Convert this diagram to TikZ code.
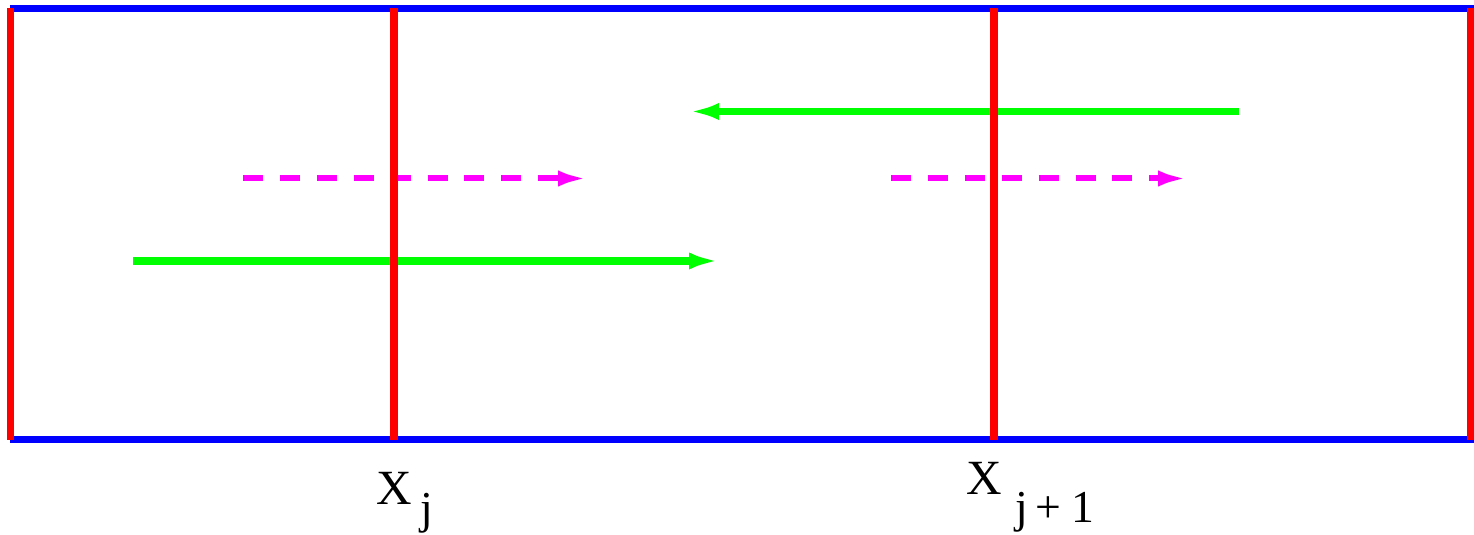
\documentclass[tikz,border=0pt]{standalone}
\usepackage{fontspec}
\setmainfont{Liberation Serif}
\usetikzlibrary{arrows.meta}

\definecolor{wallred}{RGB}{255,0,0}
\definecolor{boundblue}{RGB}{0,0,255}
\definecolor{fluxgreen}{RGB}{0,255,0}
\definecolor{wavemag}{RGB}{255,0,255}

\tikzset{
  bound/.style={boundblue, line width=2pt},
  wall/.style={wallred, line width=2pt},
  flux/.style={fluxgreen, line width=2pt, -{Latex[length=3mm,width=1.7mm]}},
  wave/.style={wavemag, line width=1.7pt, dash pattern=on 5.7pt off 4.8pt,
    -{Latex[length=3mm,width=1.6mm]}},
  lbl/.style={anchor=base west, inner sep=0pt, font=\fontsize{14}{14}\selectfont},
}
\newcommand{\sub}[2]{\hspace{0.08cm}\raisebox{#1}{\fontsize{13}{13}\selectfont #2}}

\begin{document}
\begin{tikzpicture}
    \useasboundingbox (0,0) rectangle (14.74,-5.35);

    % cell corners
    \coordinate (tl) at (0.10,-0.085);
    \coordinate (tr) at (14.74,-0.085);
    \coordinate (bl) at (0.10,-4.395);
    \coordinate (br) at (14.74,-4.395);
    \draw[bound] (tl) -- (tr);
    \draw[bound] (bl) -- (br);

    % waves
    \coordinate (a1) at (2.43,-1.785);
    \coordinate (a2) at (5.88,-1.785);
    \coordinate (b1) at (8.91,-1.785);
    \coordinate (b2) at (11.88,-1.785);
    \draw[wave] (a1) -- (a2);
    \draw[wave] (b1) -- (b2);

    % fluxes
    \coordinate (f1) at (12.39,-1.115);
    \coordinate (f2) at (6.89,-1.115);
    \coordinate (g1) at (1.33,-2.61);
    \coordinate (g2) at (7.19,-2.61);
    \draw[flux] (f1) -- (f2);
    \draw[flux] (g1) -- (g2);

    % walls
    \coordinate (w0t) at (0.105,-0.08);
    \coordinate (w0b) at (0.105,-4.40);
    \coordinate (wjt) at (3.94,-0.08);
    \coordinate (wjb) at (3.94,-4.40);
    \coordinate (wkt) at (9.94,-0.08);
    \coordinate (wkb) at (9.94,-4.40);
    \coordinate (wnt) at (14.71,-0.08);
    \coordinate (wnb) at (14.71,-4.40);
    \draw[wall] (w0t) -- (w0b);
    \draw[wall] (wjt) -- (wjb);
    \draw[wall] (wkt) -- (wkb);
    \draw[wall] (wnt) -- (wnb);

    \node[lbl] (xj) at (3.76,-5.05) {X\sub{-0.19cm}{j}};
    \node[lbl] (xk) at (9.66,-4.95) {X\hspace{0.05cm}\sub{-0.28cm}{j\hspace{0.08cm}+\hspace{0.1cm}1}};
\end{tikzpicture}
\end{document}
